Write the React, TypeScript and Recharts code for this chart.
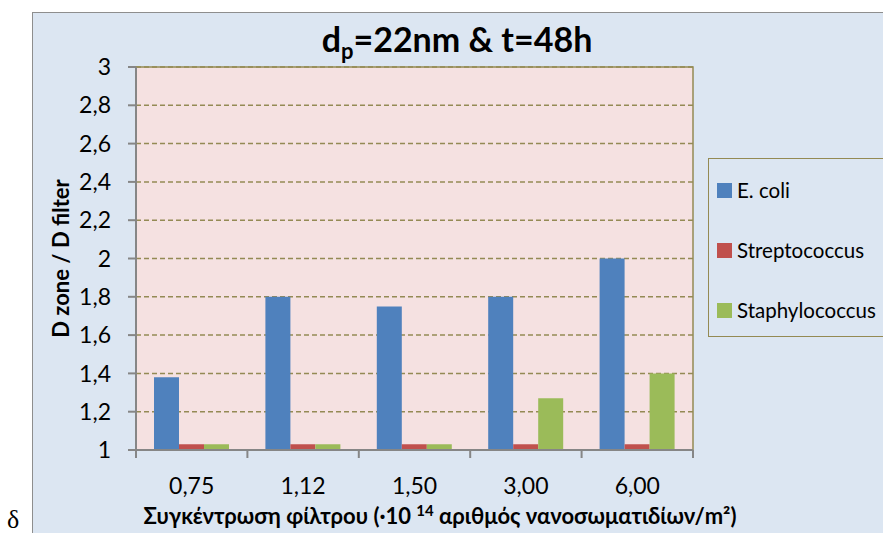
import React from 'react';
import { BarChart, Bar, XAxis, YAxis, CartesianGrid, Legend, ReferenceArea } from 'recharts';

// values
const categories = ['0,75', '1,12', '1,50', '3,00', '6,00'];
const ecoli = [1.38, 1.8, 1.75, 1.8, 2.0];
const streptococcus = [1.03, 1.03, 1.03, 1.03, 1.03];
const staphylococcus = [1.03, 1.03, 1.03, 1.27, 1.4];
const yTicks = [1, 1.2, 1.4, 1.6, 1.8, 2, 2.2, 2.4, 2.6, 2.8, 3];

const seriesKeys = ['ecoli', 'strep', 'staph'];
const seriesNames = ['E. coli', 'Streptococcus', 'Staphylococcus'];
const seriesColors = ['#4F81BD', '#C0504D', '#9BBB59'];

const data = categories.map((c, i) => ({
  conc: c,
  ecoli: ecoli[i],
  strep: streptococcus[i],
  staph: staphylococcus[i],
}));

const W = 883;
const H = 533;
const MARGIN = { top: 67, right: 190, bottom: 53, left: 76 };
const Y_AXIS_W = 60;
const X_AXIS_H = 30;
const PLOT_LEFT = MARGIN.left + Y_AXIS_W;
const PLOT_RIGHT = W - MARGIN.right;
const PLOT_BOTTOM = H - MARGIN.bottom - X_AXIS_H;
const PLOT_W = PLOT_RIGHT - PLOT_LEFT;

const FONT = 'Lato, "Noto Sans", sans-serif';
const AXIS_GRAY = '#868686';
const OLIVE = '#948A54';

const fmt = (v: number) => String(v).replace('.', ',');

const XTick = (props: any) => {
  const { x, index, payload } = props;
  const band = PLOT_W / categories.length;
  const last = index === categories.length - 1;
  return (
    <g>
      <line x1={x - band / 2} y1={PLOT_BOTTOM} x2={x - band / 2} y2={PLOT_BOTTOM + 8} stroke={AXIS_GRAY} strokeWidth={2} />
      {last && (
        <line x1={x + band / 2} y1={PLOT_BOTTOM} x2={x + band / 2} y2={PLOT_BOTTOM + 8} stroke={AXIS_GRAY} strokeWidth={2} />
      )}
      <text x={x} y={PLOT_BOTTOM + 44} textAnchor="middle" fontSize={23} fontFamily={FONT} fill="#000">
        {payload.value}
      </text>
    </g>
  );
};

const renderLegend = () => (
  <div
    style={{
      width: 200,
      height: 179,
      boxSizing: 'border-box',
      border: `1.5px solid ${OLIVE}`,
      background: '#DCE6F2',
      position: 'relative',
      fontFamily: FONT,
    }}
  >
    {seriesNames.map((n, i) => (
      <div
        key={n}
        style={{ position: 'absolute', left: 8, top: 20 + i * 60, height: 22, display: 'flex', alignItems: 'center', whiteSpace: 'nowrap' }}
      >
        <span style={{ display: 'inline-block', width: 15, height: 15, background: seriesColors[i], marginRight: 5 }} />
        <span style={{ fontSize: 20.5, color: '#000' }}>{n}</span>
      </div>
    ))}
  </div>
);

export default function App() {
  return (
    <div style={{ position: 'absolute', left: 0, top: 0, width: W, height: H, overflow: 'hidden', background: '#fff' }}>
      <div
        style={{
          position: 'absolute',
          left: 32,
          top: 12,
          right: -10,
          bottom: -10,
          background: '#DCE6F2',
          borderLeft: '1.5px solid #8E8E8E',
          borderTop: '1.5px solid #8E8E8E',
        }}
      />
      <div style={{ position: 'absolute', left: 7, top: 507, fontFamily: '"Liberation Serif", serif', fontSize: 26, lineHeight: 1 }}>δ</div>
      <div style={{ position: 'absolute', left: 0, top: 0 }}>
        <BarChart width={W} height={H} data={data} margin={MARGIN} barCategoryGap={18} barGap={0}>
          <CartesianGrid vertical={false} fill="#F5E1E1" fillOpacity={1} stroke={OLIVE} strokeDasharray="5 3" strokeWidth={1.5} />
          <ReferenceArea y1={1} y2={3} fill="none" stroke={OLIVE} strokeWidth={1.5} />
          <XAxis
            dataKey="conc"
            height={X_AXIS_H}
            axisLine={{ stroke: AXIS_GRAY, strokeWidth: 2 }}
            tickLine={false}
            tick={<XTick />}
            interval={0}
          />
          <YAxis
            width={Y_AXIS_W}
            domain={[1, 3]}
            ticks={yTicks}
            tickFormatter={fmt}
            axisLine={{ stroke: AXIS_GRAY, strokeWidth: 2 }}
            tickLine={{ stroke: AXIS_GRAY, strokeWidth: 2 }}
            tickSize={8}
            tickMargin={17}
            tick={{ fontSize: 23, fill: '#000', fontFamily: FONT }}
          />
          {seriesKeys.map((k, i) => (
            <Bar key={k} dataKey={k} name={seriesNames[i]} fill={seriesColors[i]} isAnimationActive={false} />
          ))}
          <Legend layout="vertical" align="center" verticalAlign="middle" content={renderLegend} wrapperStyle={{ left: 708, top: 158, width: 200 }} />
          <text x={457} y={52} textAnchor="middle" fontFamily={FONT} fontWeight="bold" fontSize={34} fill="#000">
            d<tspan fontSize={22} dy={7}>p</tspan>
            <tspan dy={-7}>=22nm &amp; t=48h</tspan>
          </text>
          <text
            x={60}
            y={(MARGIN.top + PLOT_BOTTOM) / 2}
            transform={`rotate(-90 60 ${(MARGIN.top + PLOT_BOTTOM) / 2})`}
            textAnchor="middle"
            dominantBaseline="central"
            fontFamily={FONT}
            fontWeight="bold"
            fontSize={22}
            fill="#000"
          >
            D zone / D filter
          </text>
          <text x={440} y={524} textAnchor="middle" fontFamily={FONT} fontWeight="bold" fontSize={22} fill="#000">
            Συγκέντρωση φίλτρου (·10 <tspan fontSize={15} dy={-8}>14</tspan>
            <tspan dy={8}> αριθμός νανοσωματιδίων/m²)</tspan>
          </text>
        </BarChart>
      </div>
    </div>
  );
}
